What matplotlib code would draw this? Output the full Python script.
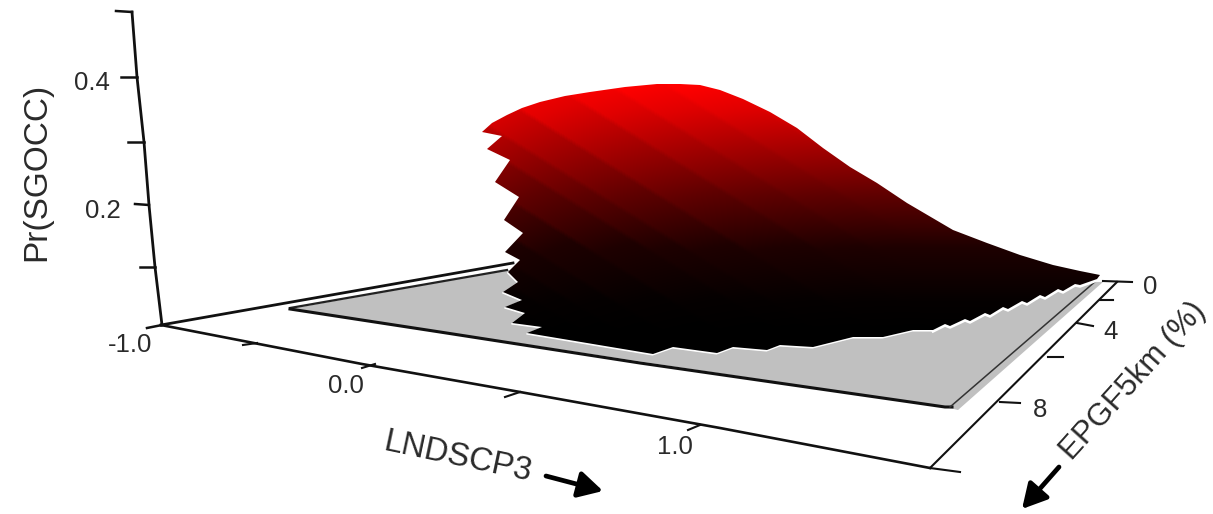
import numpy as np
import matplotlib
matplotlib.use('Agg')
import matplotlib.pyplot as plt
from matplotlib.patches import Polygon

plt.rcParams['font.family'] = ['Liberation Sans', 'DejaVu Sans']

ridge_x = [482, 492, 507, 522, 540, 565, 590, 625, 657, 680, 700, 720, 743, 770, 797, 823, 850, 877, 907, 953, 987, 1020, 1053, 1080, 1100]
ridge_y = [132, 123, 115, 108, 102, 96, 92, 87, 84, 84, 85, 90, 99, 112, 128, 148, 167, 183, 203, 230, 243, 255, 265, 271, 275]
lower_x = [1097, 1080, 1075, 1063, 1058, 1045, 1040, 1027, 1022, 1008, 1003, 990, 985, 970, 965, 950, 945, 933, 913, 883, 853, 813, 780, 767, 733, 717, 673, 653, 527]
lower_y = [279, 285, 284, 291, 289, 297, 295, 303, 301, 309, 307, 315, 313, 321, 319, 326, 324, 330, 330, 337, 337, 347, 345, 350, 347, 353, 347, 354, 333]
teeth_x = [542, 512, 525, 505, 522, 503, 518, 508, 520, 505, 523, 504, 519, 495, 510, 487, 502]
teeth_y = [327, 323, 313, 307, 300, 292, 282, 272, 260, 252, 233, 220, 197, 182, 160, 149, 136]

# red level against picture height
shade_y = [84, 110, 145, 195, 247, 300, 330]
shade_red = [255, 225, 170, 95, 30, 5, 0]
# notches on the left side, where the surface stripes start (carried on up to the right)
band_y = [-120, -85, -50, -15, 20, 55, 100, 136, 160, 197, 233, 260, 282, 300, 313, 323, 360]

floor_x = [290, 507, 1103, 958, 945]
floor_y = [309, 270, 282, 410, 407]
back_line_x = [161, 513]
back_line_y = [325, 263]
inner_line_x = [290, 507]
inner_line_y = [308, 270]
front_line_x = [290, 440, 640, 945, 952]
front_line_y = [309, 332, 363, 407, 407]
side_line_x = [950, 1097]
side_line_y = [407, 280]

z_axis_x = [132, 137, 144, 149, 155, 162]
z_axis_y = [12, 77, 142, 205, 267, 325]
z_tick_x0 = [116, 121, 128, 135, 140, 147]
z_tick_y0 = [11, 77, 142, 204, 267, 328]
z_tick_x1 = [132, 137, 144, 149, 155, 162]
z_tick_y1 = [12, 77, 142, 205, 267, 325]

x_axis_x = [161, 362, 520, 720, 930]
x_axis_y = [325, 364, 392, 428, 468]
x_tick_x0 = [243, 362, 505, 688]
x_tick_y0 = [345, 368, 397, 430]
x_tick_x1 = [257, 375, 520, 700]
x_tick_y1 = [343, 364, 392, 425]

y_axis_x = [930, 1117]
y_axis_y = [468, 282]
y_tick_x0 = [1103, 1100, 1077, 1048, 1000, 930]
y_tick_y0 = [281, 300, 323, 357, 402, 468]
y_tick_x1 = [1132, 1113, 1093, 1063, 1020, 960]
y_tick_y1 = [282, 300, 326, 357, 403, 472]

tick_labels = ['0.4', '0.2', '-1.0', '0.0', '1.0', '0', '4', '8']
label_x = [92, 103, 130, 346, 675, 1150, 1111, 1040]
label_y = [83, 211, 345, 386, 447, 287, 332, 410]

fig = plt.figure(figsize=(12.13, 5.14), dpi=100)
ax = fig.add_axes([0, 0, 1, 1])
ax.set_xlim(0, 1213)
ax.set_ylim(514, 0)
ax.axis('off')

ink = '#111111'
text_col = '#2a2a2a'

# floor
ax.add_patch(Polygon(np.column_stack([floor_x, floor_y]), closed=True, fc='#c0c0c0', ec='none', zorder=1))
ax.plot(back_line_x, back_line_y, color=ink, lw=2.0, zorder=2)
ax.fill_between(inner_line_x, inner_line_y, np.array(inner_line_y) - 3, color='white', lw=0, zorder=1.5)
ax.plot(inner_line_x, inner_line_y, color='#222222', lw=1.6, zorder=2)
ax.plot(front_line_x, front_line_y, color=ink, lw=2.2, zorder=2)
ax.plot(side_line_x, side_line_y, color='#333333', lw=1.1, zorder=2)

# axes and ticks
ax.plot(z_axis_x, z_axis_y, color=ink, lw=2.0, zorder=3)
ax.plot(x_axis_x, x_axis_y, color=ink, lw=1.9, zorder=3)
ax.plot(y_axis_x, y_axis_y, color=ink, lw=1.5, zorder=3)
for xa, ya, xb, yb in zip(z_tick_x0, z_tick_y0, z_tick_x1, z_tick_y1):
    ax.plot([xa, xb], [ya, yb], color=ink, lw=1.8, zorder=3)
for xa, ya, xb, yb in zip(x_tick_x0, x_tick_y0, x_tick_x1, x_tick_y1):
    ax.plot([xa, xb], [ya, yb], color=ink, lw=1.5, zorder=3)
for xa, ya, xb, yb in zip(y_tick_x0, y_tick_y0, y_tick_x1, y_tick_y1):
    ax.plot([xa, xb], [ya, yb], color=ink, lw=1.5, zorder=3)

# surface: thin white rim first, then the shaded part clipped to the outline
outline = np.column_stack([ridge_x + lower_x + teeth_x, ridge_y + lower_y + teeth_y])
ax.add_patch(Polygon(outline + [-0.5, 1.0], closed=True, fc='white', ec='white', lw=0.8, zorder=4))
ax.plot(lower_x[:18], np.array(lower_y[:18]) + 1.5, color='white', lw=1.8, zorder=4)

xx, yy = np.meshgrid(np.arange(470, 1110), np.arange(78, 360))
# stripes run down to the right from the notches and die out along the way
u = yy - 0.62 * (xx - 505)
idx = np.clip(np.searchsorted(band_y, u) - 1, 0, len(band_y) - 2)
lo = np.array(band_y)[idx]
hi = np.array(band_y)[idx + 1]
phase = np.clip((u - lo) / (hi - lo), 0, 1)
fade = np.clip(1 - (xx - 505) / 420, 0, 1)
red = np.interp(yy - 0.45 * (hi - lo) * (phase - 0.5) * fade, shade_y, shade_red)
# soften the band edges a little
kernel = np.ones(5) / 5
red = np.apply_along_axis(lambda c: np.convolve(c, kernel, mode='same'), 0, red)
red[:3] = red[3]
red[-3:] = 0
rgb = np.zeros(xx.shape + (3,))
rgb[..., 0] = red / 255
img = ax.imshow(rgb, extent=[470, 1110, 360, 78], aspect='auto', interpolation='bilinear', zorder=5)
ax.set_xlim(0, 1213)
ax.set_ylim(514, 0)
clip = Polygon(outline, closed=True, transform=ax.transData, fc='none', ec='none')
ax.add_patch(clip)
img.set_clip_path(clip)

# text
for s, lx, ly in zip(tick_labels, label_x, label_y):
    ax.text(lx, ly, s, fontsize=18.5, color=text_col, ha='center', va='center')
ax.text(37, 172, 'Pr(SGOCC)', fontsize=24, color=text_col, rotation=90, ha='center', va='center')
ax.text(458, 457, 'LNDSCP3', fontsize=23.5, color=text_col, rotation=-12,
        rotation_mode='anchor', ha='center', va='center')
ax.text(1133, 381, 'EPGF5km (%)', fontsize=22.5, color=text_col, rotation=48,
        rotation_mode='anchor', ha='center', va='center')

# direction arrows
head = '-|>,head_length=0.7,head_width=0.38'
ax.annotate('', xy=(603, 491), xytext=(546, 476),
            arrowprops=dict(arrowstyle=head, color='black', lw=3.4, mutation_scale=21, shrinkA=0, shrinkB=0))
ax.annotate('', xy=(1022, 509), xytext=(1059, 467),
            arrowprops=dict(arrowstyle=head, color='black', lw=3.4, mutation_scale=21, shrinkA=0, shrinkB=0))

fig.savefig('out.png', dpi=100)
